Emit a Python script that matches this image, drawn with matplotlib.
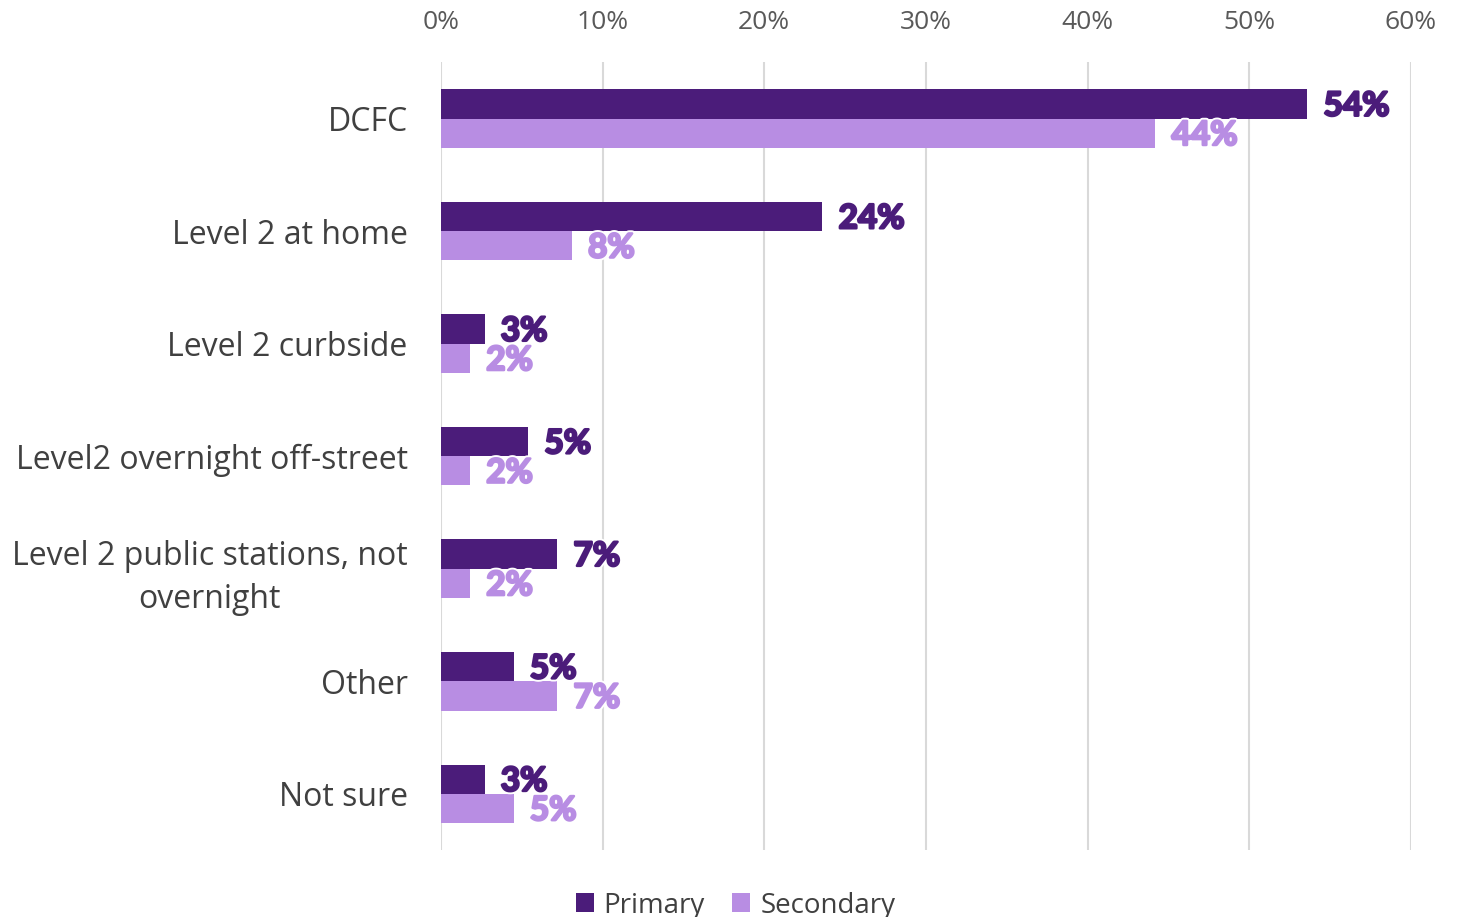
import matplotlib
matplotlib.use("Agg")
import numpy as np
import matplotlib.pyplot as plt
import matplotlib.patheffects as pe
from matplotlib.ticker import PercentFormatter

plt.rcParams["font.family"] = ["Open Sans", "DejaVu Sans"]

categories = [
    "DCFC",
    "Level 2 at home",
    "Level 2 curbside",
    "Level2 overnight off-street",
    "Level 2 public stations, not\novernight",
    "Other",
    "Not sure",
]
primary = [53.6, 23.6, 2.7, 5.4, 7.2, 4.5, 2.7]
secondary = [44.2, 8.1, 1.8, 1.8, 1.8, 7.2, 4.5]
primary_labels = ["54%", "24%", "3%", "5%", "7%", "5%", "3%"]
secondary_labels = ["44%", "8%", "2%", "2%", "2%", "7%", "5%"]

c_primary = "#4B1C7A"
c_secondary = "#B88DE3"

fig = plt.figure(figsize=(14.65, 9.17), dpi=100)
ax = fig.add_axes([0.301, 0.073, 0.662, 0.859])

y = np.arange(len(categories))
h = 0.26
ax.barh(y - h / 2, primary, height=h, color=c_primary, label="Primary")
ax.barh(y + h / 2, secondary, height=h, color=c_secondary, label="Secondary")


def heavy(color):
    # fake a black weight: thick same-colour stroke under a thin white rim
    return [pe.Stroke(linewidth=4.5, foreground="white"),
            pe.Stroke(linewidth=1.8, foreground=color),
            pe.Normal()]


for i in range(len(categories)):
    ax.text(primary[i] + 1.0, y[i] - h / 2 + 0.02, primary_labels[i], va="center", ha="left",
            fontsize=24, fontweight="bold", color=c_primary,
            family=["Lato", "DejaVu Sans"], path_effects=heavy(c_primary))
    ax.text(secondary[i] + 1.0, y[i] + h / 2 + 0.02, secondary_labels[i], va="center", ha="left",
            fontsize=24, fontweight="bold", color=c_secondary,
            family=["Lato", "DejaVu Sans"], path_effects=heavy(c_secondary))

ax.set_xlim(0, 60)
ax.set_ylim(6.5, -0.5)
ax.set_xticks(np.arange(0, 61, 10))
ax.xaxis.set_major_formatter(PercentFormatter(decimals=0))
ax.xaxis.tick_top()
ax.tick_params(axis="x", length=0, labelsize=19, labelcolor="#595959", pad=20)
ax.set_yticks(y)
ax.set_yticklabels(categories, multialignment="center", linespacing=1.4)
ax.tick_params(axis="y", length=0, labelsize=23, labelcolor="#404040", pad=24)

ax.grid(axis="x", color="#D9D9D9", linewidth=1.5)
ax.set_axisbelow(True)
for s in ax.spines.values():
    s.set_visible(False)

fig.legend(loc="lower center", bbox_to_anchor=(0.502, -0.03), ncol=2, frameon=False,
           fontsize=20, handlelength=0.65, handleheight=0.65, handletextpad=0.35,
           columnspacing=1.0, labelcolor="#404040")

fig.savefig("out.png", dpi=100)
